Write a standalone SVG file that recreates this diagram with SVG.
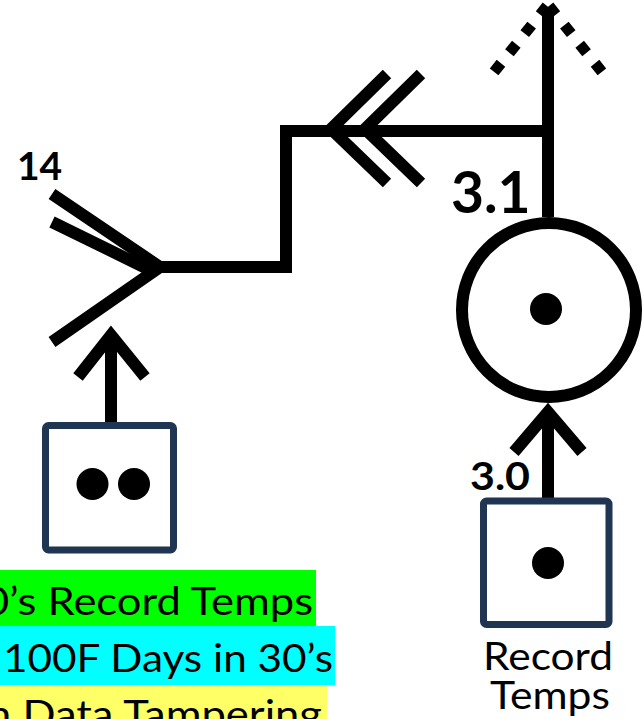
<svg xmlns="http://www.w3.org/2000/svg" width="644" height="719" viewBox="0 0 644 719">
  <style>
    .ln{fill:none;stroke:#000;stroke-width:12;stroke-linecap:butt;stroke-linejoin:miter;stroke-miterlimit:10}
    .dash{stroke-width:11;stroke-dasharray:11 13.5}
    .box{fill:#fff;stroke:#1f3552;stroke-width:7}
    .pt{fill:#000}
    .num{font-family:Lato,"Liberation Sans",sans-serif;font-weight:700;fill:#000}
    .txt{font-family:Lato,"Liberation Sans",sans-serif;font-size:39px;fill:#000}
  </style>

  <!-- highlighted caption lines (bottom left) -->
  <g id="captions">
    <rect x="0" y="570" width="316" height="59" fill="#00ff00"/>
    <rect x="0" y="626" width="335" height="59" fill="#00ffff"/>
    <rect x="0" y="685" width="327" height="34" fill="#ffff66"/>
    <text class="txt" x="-16" y="615" textLength="329" lengthAdjust="spacingAndGlyphs">0’s Record Temps</text>
    <text class="txt" x="3" y="672" textLength="330" lengthAdjust="spacingAndGlyphs">100F Days in 30’s</text>
    <text class="txt" x="-13" y="728" textLength="335" lengthAdjust="spacingAndGlyphs">n Data Tampering</text>
  </g>

  <!-- flows -->
  <g id="connectors">
    <!-- outgoing flow from 3.1, upward, with dotted arrowhead -->
    <path class="ln" d="M548,217 V8"/>
    <path class="ln dash" d="M547,6 L494,72"/>
    <path class="ln dash" d="M549,6 L602,72"/>
    <!-- branch from 3.1 to the left merge -->
    <path class="ln" d="M548,131 H286 V267 H160"/>
    <path class="ln" d="M387,74 L331,129 L387,183"/>
    <path class="ln" d="M421,74 L365,129 L421,183"/>
    <!-- merge symbol, flow 14 -->
    <path class="ln" d="M52,194 L160,267 L52,342"/>
    <path class="ln" d="M52,222 L150,270"/>
    <!-- left source into merge -->
    <path class="ln" d="M111,424 V335"/>
    <path class="ln" d="M78,377 L111,335 L145,377"/>
    <!-- right source into process 3.1 -->
    <path class="ln" d="M548,500 V412"/>
    <path class="ln" d="M514,452 L548,412 L582,452"/>
  </g>

  <g id="process-3-1">
    <circle cx="549" cy="310" r="87" fill="#fff" stroke="#000" stroke-width="12"/>
    <circle class="pt" cx="546" cy="309" r="16"/>
  </g>

  <g id="source-left">
    <rect class="box" x="45.5" y="425.5" width="128" height="124.5" rx="3"/>
    <circle class="pt" cx="92.5" cy="484" r="16"/>
    <circle class="pt" cx="134" cy="484" r="16"/>
  </g>

  <g id="source-right">
    <rect class="box" x="483.5" y="501" width="125.5" height="123.5" rx="3"/>
    <circle class="pt" cx="548" cy="563" r="16"/>
    <text class="txt" x="548" y="670" text-anchor="middle" textLength="130" lengthAdjust="spacingAndGlyphs">Record</text>
    <text class="txt" x="550" y="709" text-anchor="middle" textLength="120" lengthAdjust="spacingAndGlyphs">Temps</text>
  </g>

  <g id="labels">
    <text class="num" x="17" y="180" font-size="39">14</text>
    <text class="num" x="451" y="213" font-size="57">3.1</text>
    <text class="num" x="470" y="490" font-size="39" textLength="60" lengthAdjust="spacingAndGlyphs">3.0</text>
  </g>
</svg>
